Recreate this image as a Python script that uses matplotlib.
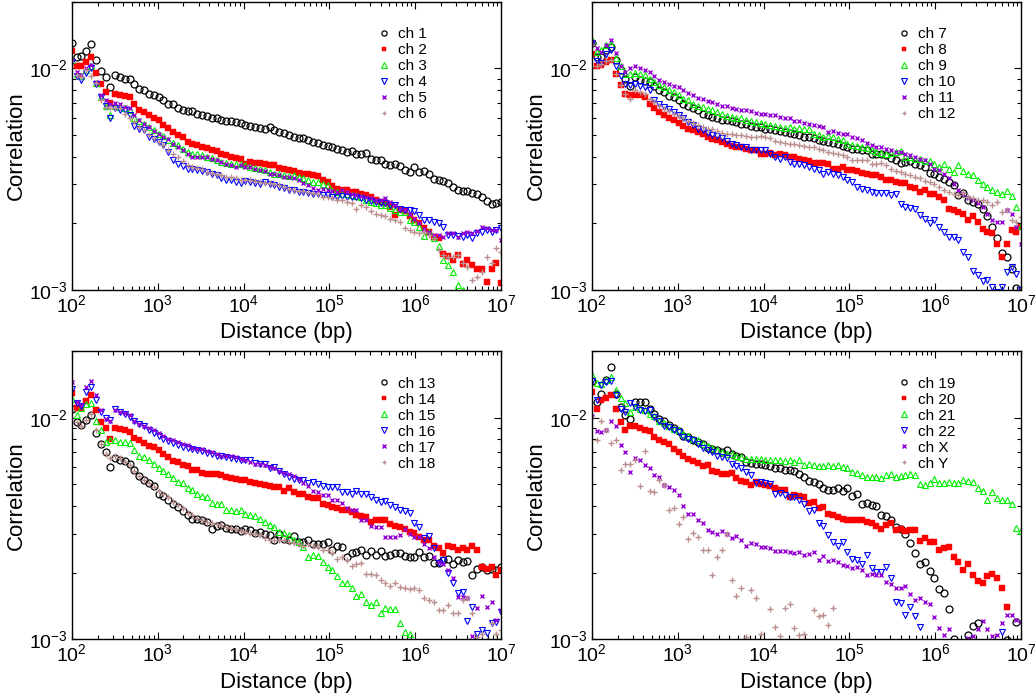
import numpy as np
import matplotlib
matplotlib.use("Agg")
import matplotlib.pyplot as plt

plt.rcParams['font.family'] = ['Liberation Sans', 'DejaVu Sans']
plt.rcParams['mathtext.default'] = 'regular'
plt.rcParams['axes.unicode_minus'] = False

# distance bins (bp): 90 log-spaced bins between 1e2 and 1e7
distance = np.logspace(2, 7, 90)

# correlation, in units of 1e-3
ch1 = [13.0, 11.2, 11.4, 12.0, 12.9, 10.9, 9.7, 9.1, 8.2, 9.3,
       9.1, 9.0, 9.0, 8.5, 8.1, 8.0, 7.7, 7.6, 7.4, 7.2,
       6.9, 6.9, 6.6, 6.5, 6.4, 6.4, 6.25, 6.15, 6.1, 6.0,
       5.95, 5.85, 5.8, 5.8, 5.75, 5.65, 5.55, 5.5, 5.45, 5.4,
       5.35, 5.45, 5.25, 5.15, 5.1, 5.0, 4.9, 4.85, 4.85, 4.75,
       4.65, 4.6, 4.5, 4.45, 4.4, 4.35, 4.27, 4.2, 4.25, 4.1,
       4.13, 4.15, 3.9, 3.88, 3.85, 3.72, 3.66, 3.72, 3.63, 3.47,
       3.41, 3.59, 3.41, 3.45, 3.35, 3.16, 3.13, 3.1, 3.04, 2.92,
       2.84, 2.8, 2.8, 2.74, 2.7, 2.63, 2.52, 2.44, 2.48, 2.5]
ch2 = [12.0, 10.3, 10.2, 10.7, 11.2, 9.5, 8.5, 7.8, 7.0, 7.7,
       7.6, 7.5, 7.4, 6.9, 6.5, 6.35, 6.15, 6.0, 5.85, 5.55,
       5.4, 5.15, 5.0, 4.9, 4.65, 4.55, 4.5, 4.42, 4.38, 4.3,
       4.25, 4.13, 4.05, 4.0, 3.96, 3.92, 3.72, 3.78, 3.76, 3.76,
       3.72, 3.68, 3.66, 3.57, 3.53, 3.47, 3.45, 3.39, 3.33, 3.33,
       3.29, 3.26, 3.13, 3.07, 2.94, 2.87, 2.84, 2.82, 2.77, 2.76,
       2.72, 2.67, 2.62, 2.56, 2.5, 2.46, 2.37, 2.19, 2.29, 2.27,
       2.15, 2.07, 2.0, 1.9, 1.83, 1.73, 1.71, 1.46, 1.42, 1.37,
       1.44, 1.31, 1.37, 1.3, 1.25, 1.25, 1.09, 1.25, 1.33, 1.08]
ch3 = [10.9, 9.4, 9.2, 9.8, 10.2, 8.6, 7.4, 6.8, 6.15, 6.8,
       6.7, 6.6, 6.47, 6.0, 5.8, 5.6, 5.44, 5.26, 5.08, 4.95,
       4.74, 4.6, 4.5, 4.35, 4.2, 4.13, 4.1, 4.05, 4.0, 3.96,
       3.88, 3.78, 3.76, 3.72, 3.7, 3.72, 3.66, 3.59, 3.55, 3.5,
       3.47, 3.41, 3.35, 3.33, 3.29, 3.27, 3.29, 3.22, 3.19, 3.13,
       3.07, 3.07, 3.02, 2.97, 2.8, 2.77, 2.72, 2.7, 2.67, 2.66,
       2.62, 2.54, 2.5, 2.46, 2.41, 2.41, 2.35, 2.3, 2.25, 2.24,
       2.07, 2.03, 1.93, 1.75, 1.83, 1.71, 1.58, 1.37, 1.3, 1.21,
       1.05, 1.0, 0.9, 0.85, 0.8, 0.8, 0.75, 0.75, 0.7, 0.7]
ch4 = [10.7, 9.2, 8.9, 9.5, 10.0, 8.5, 7.4, 6.8, 5.95, 6.6,
       6.5, 6.47, 6.15, 5.5, 5.35, 5.26, 4.91, 4.78, 4.66, 4.5,
       4.2, 3.85, 3.72, 3.62, 3.53, 3.5, 3.47, 3.45, 3.41, 3.33,
       3.29, 3.19, 3.13, 3.13, 3.07, 3.04, 3.1, 3.07, 3.04, 3.02,
       3.07, 3.0, 2.97, 2.92, 2.9, 2.84, 2.82, 2.77, 2.77, 2.74,
       2.72, 2.7, 2.67, 2.67, 2.63, 2.63, 2.65, 2.63, 2.63, 2.62,
       2.59, 2.56, 2.52, 2.5, 2.48, 2.46, 2.41, 2.41, 2.33, 2.29,
       2.29, 2.27, 2.18, 2.06, 2.06, 2.03, 2.0, 1.93, 1.77, 1.77,
       1.75, 1.73, 1.77, 1.71, 1.8, 1.83, 1.86, 1.83, 1.86, 1.9]
ch5 = [10.9, 9.6, 9.3, 10.0, 10.4, 8.7, 7.6, 7.2, 6.9, 7.0,
       6.9, 6.7, 6.6, 6.15, 5.85, 5.6, 5.44, 5.22, 5.08, 4.9,
       4.78, 4.55, 4.42, 4.3, 4.13, 4.0, 4.0, 3.99, 3.99, 3.92,
       3.88, 3.78, 3.72, 3.66, 3.59, 3.66, 3.59, 3.59, 3.53, 3.47,
       3.43, 3.35, 3.35, 3.29, 3.22, 3.24, 3.19, 3.13, 3.04, 2.97,
       2.89, 2.84, 2.87, 2.82, 2.8, 2.77, 2.82, 2.77, 2.72, 2.67,
       2.65, 2.63, 2.59, 2.56, 2.54, 2.59, 2.5, 2.41, 2.33, 2.3,
       2.21, 2.09, 2.0, 1.88, 1.83, 1.77, 1.77, 1.74, 1.8, 1.8,
       1.74, 1.8, 1.83, 1.8, 1.85, 1.93, 1.9, 1.86, 1.86, 1.69]
ch6 = [10.7, 9.3, 9.1, 9.8, 9.2, 8.6, 7.2, 6.7, 6.6, 6.6,
       6.6, 6.25, 6.0, 5.7, 5.44, 5.26, 5.0, 4.83, 4.66, 4.5,
       4.27, 4.1, 3.99, 3.83, 3.66, 3.59, 3.55, 3.5, 3.41, 3.39,
       3.35, 3.29, 3.24, 3.24, 3.19, 3.15, 3.13, 3.13, 3.11, 3.07,
       3.04, 3.04, 3.02, 2.97, 2.92, 2.87, 2.82, 2.8, 2.8, 2.77,
       2.74, 2.7, 2.63, 2.63, 2.59, 2.54, 2.54, 2.5, 2.46, 2.33,
       2.41, 2.37, 2.27, 2.21, 2.18, 2.15, 2.1, 2.07, 2.03, 1.9,
       1.86, 1.83, 1.8, 1.83, 1.77, 1.71, 1.51, 1.44, 1.41, 1.41,
       1.44, 1.32, 1.27, 1.11, 1.15, 1.21, 1.41, 1.32, 1.54, 1.49]

ch7 = [13.0, 11.3, 11.2, 12.05, 12.5, 10.9, 9.8, 9.0, 8.3, 9.1,
       8.9, 8.8, 8.7, 8.3, 8.0, 7.8, 7.5, 7.4, 7.2, 6.9,
       6.75, 6.6, 6.5, 6.25, 6.15, 6.04, 5.95, 5.87, 5.83, 5.8,
       5.73, 5.63, 5.6, 5.5, 5.45, 5.44, 5.35, 5.3, 5.26, 5.22,
       5.17, 5.13, 5.05, 5.0, 4.91, 4.88, 4.83, 4.74, 4.71, 4.66,
       4.62, 4.55, 4.47, 4.42, 4.35, 4.35, 4.3, 4.27, 4.1, 4.13,
       4.13, 4.05, 3.96, 3.85, 3.76, 3.78, 3.83, 3.72, 3.68, 3.59,
       3.39, 3.33, 3.24, 3.16, 3.07, 2.97, 2.67, 2.74, 2.54, 2.5,
       2.44, 2.33, 2.15, 1.93, 1.71, 1.47, 1.41, 1.25, 1.02, 0.97]
ch8 = [11.6, 10.2, 10.4, 10.7, 10.9, 9.4, 8.4, 7.7, 7.55, 7.55,
       7.55, 7.4, 6.9, 6.6, 6.35, 6.15, 6.0, 5.87, 5.67, 5.5,
       5.35, 5.26, 5.17, 5.08, 4.91, 4.78, 4.74, 4.66, 4.58, 4.47,
       4.42, 4.42, 4.35, 4.3, 4.27, 4.13, 4.13, 4.15, 4.05, 4.1,
       4.05, 4.0, 3.99, 3.92, 3.88, 3.83, 3.76, 3.74, 3.76, 3.72,
       3.53, 3.53, 3.59, 3.47, 3.47, 3.45, 3.37, 3.35, 3.29, 3.29,
       3.24, 3.15, 3.13, 3.07, 3.04, 3.04, 2.92, 2.89, 2.77, 2.84,
       2.7, 2.72, 2.63, 2.54, 2.33, 2.29, 2.25, 2.21, 2.07, 2.15,
       2.03, 1.88, 1.82, 1.8, 1.62, 1.41, 1.62, 1.86, 1.83, 1.93]
ch9 = [13.5, 11.8, 12.1, 12.7, 12.9, 11.1, 10.2, 9.4, 9.46, 9.5,
       9.4, 9.3, 9.0, 8.7, 8.4, 8.24, 7.96, 7.8, 7.55, 7.3,
       7.18, 6.93, 6.8, 6.7, 6.58, 6.47, 6.35, 6.25, 6.08, 6.04,
       6.0, 5.95, 5.87, 5.8, 5.73, 5.67, 5.6, 5.53, 5.5, 5.44,
       5.4, 5.44, 5.35, 5.38, 5.35, 5.3, 5.08, 5.0, 4.91, 4.94,
       4.91, 4.78, 4.74, 4.58, 4.5, 4.45, 4.42, 4.38, 4.3, 4.2,
       4.15, 4.13, 4.15, 4.2, 4.24, 4.0, 4.0, 3.92, 3.92, 3.83,
       3.83, 3.72, 3.59, 3.7, 3.53, 3.41, 3.66, 3.45, 3.35, 3.29,
       3.13, 3.0, 2.92, 2.84, 2.77, 2.72, 2.8, 2.65, 2.37, 1.94]
ch10 = [13.0, 10.8, 10.6, 11.6, 12.1, 10.3, 9.2, 8.5, 8.4, 8.5,
        8.3, 8.2, 8.0, 7.2, 6.9, 6.7, 6.58, 6.35, 6.15, 5.95,
        5.73, 5.53, 5.35, 5.26, 5.1, 5.0, 4.94, 4.83, 4.71, 4.58,
        4.5, 4.42, 4.4, 4.27, 4.27, 4.3, 4.3, 4.13, 4.0, 3.92,
        3.99, 3.78, 3.72, 3.7, 3.66, 3.59, 3.53, 3.47, 3.35, 3.41,
        3.35, 3.29, 3.24, 3.15, 3.07, 2.92, 2.87, 2.84, 2.77, 2.74,
        2.74, 2.74, 2.67, 2.7, 2.44, 2.37, 2.35, 2.33, 2.18, 2.1,
        2.0, 2.06, 1.93, 1.83, 1.74, 1.73, 1.69, 1.49, 1.41, 1.22,
        1.17, 1.1, 1.11, 1.03, 0.98, 1.03, 1.21, 1.27, 1.18, 1.0]
ch11 = [13.1, 12.3, 11.8, 12.7, 13.5, 11.7, 10.2, 9.6, 10.0, 10.2,
        10.0, 9.8, 9.6, 9.2, 8.9, 8.7, 8.53, 8.3, 8.2, 7.96,
        7.75, 7.55, 7.38, 7.3, 7.13, 7.05, 6.9, 6.8, 6.75, 6.65,
        6.58, 6.47, 6.47, 6.43, 6.3, 6.25, 6.25, 6.15, 6.15, 6.04,
        6.0, 5.95, 5.8, 5.8, 5.67, 5.63, 5.53, 5.47, 5.44, 5.17,
        5.22, 5.1, 5.08, 5.08, 4.91, 4.83, 4.74, 4.62, 4.5, 4.42,
        4.4, 4.35, 4.27, 4.2, 4.2, 4.1, 4.05, 4.0, 3.92, 3.88,
        3.72, 3.53, 3.47, 3.35, 3.19, 3.02, 2.82, 2.72, 2.59, 2.54,
        2.46, 2.37, 2.21, 2.06, 2.03, 2.03, 2.3, 2.21, 1.93, 1.62]
ch12 = [12.7, 10.3, 10.5, 10.8, 10.95, 9.46, 8.4, 7.65, 7.3, 7.96,
        7.8, 7.65, 7.3, 7.05, 6.75, 6.58, 6.43, 6.25, 6.08, 5.95,
        5.8, 5.67, 5.53, 5.44, 5.35, 5.3, 5.22, 5.1, 5.08, 5.05,
        5.0, 5.0, 4.94, 4.91, 4.91, 4.94, 4.91, 4.83, 4.71, 4.66,
        4.62, 4.58, 4.55, 4.5, 4.45, 4.42, 4.4, 4.35, 4.27, 4.2,
        4.15, 4.1, 4.05, 3.99, 3.88, 3.88, 3.85, 3.85, 3.7, 3.72,
        3.74, 3.66, 3.5, 3.45, 3.41, 3.35, 3.29, 3.24, 3.19, 3.11,
        3.07, 3.02, 2.92, 2.84, 2.77, 2.72, 2.67, 2.74, 2.62, 2.59,
        2.54, 2.56, 2.5, 2.41, 2.5, 2.25, 2.29, 2.07, 2.03, 2.14]

ch13 = [10.9, 9.55, 9.3, 9.8, 10.25, 8.53, 7.6, 7.0, 6.0, 6.6,
        6.47, 6.4, 6.17, 5.83, 5.44, 5.26, 5.08, 4.91, 4.55, 4.42,
        4.27, 4.1, 3.96, 3.8, 3.63, 3.5, 3.5, 3.45, 3.39, 3.16,
        3.24, 3.27, 3.19, 3.16, 3.13, 3.09, 3.13, 3.11, 3.02, 3.05,
        3.0, 2.95, 2.82, 3.0, 2.85, 2.82, 2.92, 2.75, 2.75, 2.8,
        2.7, 2.68, 2.7, 2.75, 2.54, 2.63, 2.6, 2.36, 2.46, 2.48,
        2.54, 2.4, 2.5, 2.4, 2.5, 2.37, 2.4, 2.44, 2.44, 2.37,
        2.34, 2.34, 2.48, 2.36, 2.37, 2.21, 2.21, 2.28, 2.31, 2.19,
        2.29, 2.24, 2.26, 1.95, 2.07, 2.13, 2.05, 2.07, 2.05, 2.13]
ch14 = [12.9, 11.1, 11.1, 11.9, 12.6, 10.8, 9.55, 9.0, 8.05, 9.0,
        8.9, 8.83, 8.6, 8.1, 7.96, 7.69, 7.43, 7.38, 7.13, 6.84,
        6.65, 6.4, 6.32, 6.1, 6.04, 5.83, 5.8, 5.63, 5.55, 5.6,
        5.55, 5.5, 5.4, 5.37, 5.3, 5.22, 5.26, 5.13, 5.08, 5.0,
        4.95, 4.91, 4.88, 4.88, 4.68, 4.8, 4.63, 4.55, 4.52, 4.4,
        4.32, 4.32, 4.1, 4.03, 3.96, 3.9, 3.85, 3.83, 3.76, 3.63,
        3.59, 3.57, 3.39, 3.45, 3.45, 3.45, 3.31, 3.24, 3.22, 3.16,
        3.05, 3.02, 2.9, 2.82, 2.82, 2.63, 2.57, 2.46, 2.65, 2.61,
        2.52, 2.57, 2.54, 2.65, 2.54, 2.13, 2.07, 2.13, 1.95, 2.05]
ch15 = [12.1, 10.25, 11.1, 11.5, 11.6, 9.7, 8.8, 7.75, 7.96, 7.9,
        7.75, 7.75, 7.69, 7.13, 6.75, 6.65, 6.43, 6.17, 5.95, 5.75,
        5.6, 5.37, 5.13, 5.05, 4.8, 4.71, 4.55, 4.42, 4.4, 4.13,
        4.07, 4.07, 3.83, 3.83, 3.8, 3.83, 3.66, 3.63, 3.59, 3.5,
        3.39, 3.27, 3.22, 3.05, 3.02, 2.95, 2.8, 2.75, 2.61, 2.36,
        2.4, 2.37, 2.24, 2.13, 2.05, 1.93, 1.79, 1.8, 1.7, 1.57,
        1.6, 1.48, 1.43, 1.48, 1.32, 1.39, 1.37, 1.37, 1.19, 1.08,
        1.06, 0.9, 0.9, 0.85, 0.85, 0.8, 0.8, 0.8, 0.75, 0.75,
        0.75, 0.7, 0.7, 0.7, 0.7, 0.65, 0.65, 0.65, 0.6, 0.6]
ch16 = [13.5, 11.65, 11.25, 13.0, 13.8, 12.05, 10.6, 10.0, 9.8, 10.9,
        10.6, 10.4, 10.1, 9.7, 9.4, 9.14, 8.83, 8.53, 8.3, 8.05,
        7.85, 7.69, 7.5, 7.38, 7.3, 7.25, 7.18, 7.08, 6.93, 6.84,
        6.75, 6.7, 6.65, 6.6, 6.53, 6.43, 6.47, 6.43, 6.25, 6.2,
        6.17, 5.95, 6.0, 5.75, 5.6, 5.4, 5.3, 5.22, 5.22, 5.08,
        5.13, 5.0, 4.91, 4.88, 4.88, 4.88, 4.63, 4.63, 4.55, 4.68,
        4.55, 4.52, 4.4, 4.27, 4.17, 4.21, 4.03, 3.96, 3.83, 3.8,
        3.72, 3.35, 3.22, 2.88, 2.92, 2.57, 2.21, 2.28, 2.0, 1.8,
        1.61, 1.64, 1.21, 1.4, 1.06, 1.1, 1.07, 1.18, 1.2, 1.33]
ch17 = [14.5, 11.8, 11.4, 13.7, 14.7, 12.6, 10.8, 9.9, 9.7, 10.8,
        10.6, 10.5, 10.25, 9.7, 9.4, 9.2, 9.0, 8.83, 8.53, 8.3,
        8.05, 7.9, 7.75, 7.63, 7.5, 7.3, 7.25, 7.25, 7.08, 7.0,
        6.88, 6.75, 6.75, 6.7, 6.65, 6.53, 6.47, 6.32, 6.2, 6.17,
        6.1, 6.0, 5.9, 5.75, 5.63, 5.55, 5.44, 5.3, 5.05, 4.91,
        4.68, 4.63, 4.47, 4.47, 4.24, 4.27, 4.13, 3.9, 3.83, 3.83,
        3.47, 3.45, 3.24, 3.22, 3.22, 2.9, 2.9, 2.9, 2.95, 3.16,
        3.0, 2.9, 2.9, 2.7, 2.57, 2.36, 2.24, 2.19, 2.05, 1.89,
        1.56, 1.55, 1.53, 1.03, 1.38, 1.57, 1.4, 1.48, 1.22, 1.36]
ch18 = [10.8, 9.55, 9.2, 9.8, 10.4, 8.8, 7.63, 6.88, 6.6, 6.75,
        6.6, 6.32, 6.1, 5.75, 5.44, 5.22, 5.08, 4.88, 4.68, 4.55,
        4.37, 4.17, 4.03, 3.9, 3.72, 3.63, 3.54, 3.45, 3.39, 3.35,
        3.33, 3.27, 3.22, 3.19, 3.13, 3.09, 3.05, 3.02, 3.0, 2.95,
        2.88, 2.82, 2.8, 2.82, 2.8, 2.75, 2.72, 2.68, 2.65, 2.68,
        2.63, 2.6, 2.54, 2.52, 2.44, 2.31, 2.36, 2.28, 2.14, 2.19,
        2.21, 1.98, 1.97, 1.95, 1.86, 1.79, 1.74, 1.8, 1.73, 1.71,
        1.68, 1.7, 1.67, 1.53, 1.5, 1.48, 1.35, 1.35, 1.43, 1.32,
        1.32, 1.5, 1.53, 1.32, 1.02, 1.06, 0.99, 1.18, 1.06, 1.1]

ch19 = [14.7, 11.8, 12.8, 14.8, 17.0, 12.8, 11.2, 10.25, 9.9, 11.8,
        11.8, 11.8, 11.0, 10.35, 9.9, 9.65, 9.3, 9.0, 8.7, 8.3,
        8.15, 7.96, 7.75, 7.63, 7.3, 7.25, 7.13, 7.0, 7.13, 6.84,
        6.75, 6.65, 6.32, 6.25, 6.2, 6.2, 6.1, 6.04, 5.95, 5.9,
        5.83, 5.8, 5.73, 5.55, 5.4, 5.18, 5.13, 5.0, 4.8, 4.74,
        4.74, 4.8, 4.68, 4.8, 4.42, 4.52, 4.07, 4.13, 4.03, 3.99,
        3.63, 3.59, 3.47, 3.22, 3.13, 3.0, 2.72, 2.44, 2.19, 2.24,
        2.04, 1.89, 1.68, 1.62, 1.37, 1.0, 0.9, 0.85, 1.05, 1.15,
        1.19, 0.85, 0.8, 0.8, 0.8, 0.8, 0.99, 0.8, 1.2, 0.8]
ch20 = [13.0, 11.0, 12.0, 12.3, 12.6, 11.0, 9.55, 8.83, 9.2, 9.2,
        9.0, 8.8, 8.7, 8.15, 7.96, 7.75, 7.6, 7.25, 7.0, 6.7,
        6.53, 6.4, 6.25, 6.04, 6.1, 5.75, 5.7, 5.6, 5.55, 5.63,
        5.37, 5.18, 5.13, 4.95, 5.13, 5.0, 4.95, 4.91, 4.8, 4.71,
        4.74, 4.4, 4.47, 4.42, 4.4, 4.13, 4.17, 3.9, 3.96, 3.68,
        3.63, 3.57, 3.5, 3.47, 3.45, 3.45, 3.45, 3.39, 3.35, 3.24,
        3.16, 3.27, 3.35, 3.11, 3.16, 3.09, 3.11, 3.11, 2.78, 2.86,
        2.75, 2.75, 2.54, 2.57, 2.6, 2.34, 2.24, 2.05, 2.19, 1.95,
        1.84, 1.79, 1.93, 1.97, 1.9, 1.71, 1.4, 0.9, 0.9, 0.9]
ch21 = [15.6, 14.3, 14.2, 14.8, 15.3, 13.3, 12.3, 11.6, 10.6, 11.2,
        11.0, 10.8, 10.4, 10.15, 9.7, 9.46, 9.14, 8.9, 8.8, 8.45,
        8.24, 8.05, 7.9, 7.63, 7.43, 7.3, 7.18, 7.0, 6.88, 6.84,
        6.75, 6.65, 6.53, 6.53, 6.53, 6.53, 6.47, 6.43, 6.47, 6.43,
        6.4, 6.43, 6.32, 6.43, 6.1, 6.17, 6.1, 6.04, 6.04, 6.1,
        6.04, 6.1, 6.0, 5.9, 5.7, 5.63, 5.5, 5.4, 5.4, 5.4,
        5.37, 5.5, 5.55, 5.4, 5.44, 5.5, 5.55, 5.5, 5.0, 4.95,
        5.05, 5.3, 5.05, 5.08, 5.13, 5.08, 5.08, 5.26, 5.18, 5.13,
        4.8, 4.68, 4.24, 4.63, 4.32, 4.27, 4.24, 4.07, 3.19, 3.09]
ch22 = [14.7, 12.0, 14.0, 14.5, 14.6, 12.6, 11.0, 10.6, 11.6, 11.2,
        10.8, 10.7, 10.8, 10.1, 9.65, 9.2, 9.07, 8.83, 8.6, 8.15,
        8.05, 7.9, 7.6, 7.3, 7.13, 7.0, 6.75, 6.65, 6.6, 6.17,
        6.04, 5.9, 5.7, 5.5, 5.05, 5.13, 5.08, 5.0, 4.52, 4.58,
        4.47, 4.4, 4.4, 4.27, 4.07, 3.8, 3.83, 3.35, 3.24, 2.95,
        2.75, 2.63, 2.75, 2.48, 2.31, 2.28, 2.19, 2.4, 2.1, 2.02,
        2.02, 2.12, 1.89, 1.48, 1.46, 1.29, 1.4, 1.27, 1.14, 0.9,
        0.9, 0.9, 0.9, 0.9, 0.9, 0.9, 0.9, 0.9, 0.9, 0.9,
        0.9, 0.9, 0.9, 0.9, 0.9, 1.08, 0.9, 0.9, 0.9, 0.9]
chX = [10.15, 8.7, 8.6, 8.8, 9.65, 9.14, 7.5, 7.0, 5.7, 6.6,
       6.43, 6.1, 5.9, 5.5, 5.4, 4.95, 4.88, 4.71, 4.47, 3.99,
       3.66, 3.66, 3.45, 3.35, 3.11, 3.05, 3.0, 3.09, 3.0, 2.88,
       2.92, 2.8, 2.65, 2.72, 2.7, 2.6, 2.61, 2.57, 2.5, 2.5,
       2.5, 2.48, 2.44, 2.48, 2.4, 2.43, 2.48, 2.28, 2.37, 2.26,
       2.29, 2.24, 2.17, 2.14, 2.1, 2.13, 2.05, 1.95, 1.97, 1.95,
       1.95, 1.82, 1.77, 1.71, 1.71, 1.74, 1.6, 1.51, 1.53, 1.48,
       1.45, 1.26, 1.13, 1.05, 1.11, 0.95, 0.9, 0.92, 1.01, 1.03,
       1.11, 1.21, 1.11, 1.03, 1.05, 1.18, 1.29, 1.29, 1.22, 1.2]
chY = [10.1, 7.96, 9.7, 8.83, 7.69, 7.9, 5.8, 6.17, 6.17, 6.43,
       4.91, 7.08, 4.68, 4.63, 5.22, 4.95, 3.85, 3.9, 3.33, 3.57,
       2.85, 3.02, 2.9, 2.52, 2.52, 1.95, 2.34, 2.54, 3.0, 1.86,
       1.57, 1.71, 1.02, 1.67, 1.53, 1.06, 0.9, 1.37, 1.14, 1.03,
       1.38, 1.45, 1.13, 1.05, 1.06, 0.95, 1.35, 1.27, 1.29, 1.16,
       1.38, 0.9, 0.9, 0.9, 0.9, 0.9, 0.9, 0.9, 0.9, 0.9,
       0.9, 0.9, 0.9, 0.9, 0.9, 0.9, 0.9, 0.9, 0.9, 0.9,
       0.9, 0.9, 0.9, 0.9, 0.9, 0.9, 0.9, 0.9, 0.9, 0.9,
       0.9, 0.9, 0.9, 0.9, 0.9, 0.9, 0.9, 0.9, 0.9, 0.9]

panels = [
    (["ch 1", "ch 2", "ch 3", "ch 4", "ch 5", "ch 6"], [ch1, ch2, ch3, ch4, ch5, ch6]),
    (["ch 7", "ch 8", "ch 9", "ch 10", "ch 11", "ch 12"], [ch7, ch8, ch9, ch10, ch11, ch12]),
    (["ch 13", "ch 14", "ch 15", "ch 16", "ch 17", "ch 18"], [ch13, ch14, ch15, ch16, ch17, ch18]),
    (["ch 19", "ch 20", "ch 21", "ch 22", "ch X", "ch Y"], [ch19, ch20, ch21, ch22, chX, chY]),
]

# xmgrace-like symbols, same order in every panel
styles = [
    dict(marker='o', mfc='none', mec='black', ms=5.0, mew=0.9),
    dict(marker='s', mfc='#ff0000', mec='#ff0000', ms=4.5, mew=0.3),
    dict(marker='^', mfc='none', mec='#00ee00', ms=5.0, mew=0.8),
    dict(marker='v', mfc='none', mec='#0000ff', ms=5.0, mew=0.8),
    dict(marker='x', mec='#9400d3', ms=3.0, mew=1.0),
    dict(marker='+', mec='#bc8f8f', ms=4.2, mew=1.0),
]

positions = [(0.0693, 0.5845, 0.4150, 0.4131), (0.5717, 0.5845, 0.4150, 0.4131),
             (0.0693, 0.0841, 0.4150, 0.4130), (0.5717, 0.0841, 0.4150, 0.4130)]

fig = plt.figure(figsize=(10.35, 6.98), dpi=100)

for pos, (labels, data) in zip(positions, panels):
    ax = fig.add_axes(pos)
    for lab, vals, st in zip(labels, data, styles):
        ax.plot(distance, np.array(vals) * 1e-3, ls='none', label=lab, **st)
    ax.set_xscale('log')
    ax.set_yscale('log')
    ax.set_xlim(1e2, 1e7)
    ax.set_ylim(1e-3, 2e-2)
    ax.tick_params(which='both', direction='in', top=True, right=True, width=0.8)
    ax.tick_params(which='major', length=5, labelsize=14, pad=3)
    ax.tick_params(which='minor', length=3)
    for sp in ax.spines.values():
        sp.set_linewidth(1.0)
    ax.set_xlabel('Distance (bp)', fontsize=16)
    ax.set_ylabel('Correlation', fontsize=16)
    ax.xaxis.set_label_coords(0.5, -0.112)
    ax.yaxis.set_label_coords(-0.104, 0.5)
    ax.legend(loc='upper left', bbox_to_anchor=(0.709, 0.911), frameon=False,
              fontsize=11, handlelength=1.0, handletextpad=0.45, labelspacing=0.13,
              borderpad=0, borderaxespad=0, markerscale=0.75, numpoints=1)

fig.savefig('out.png', dpi=100)
